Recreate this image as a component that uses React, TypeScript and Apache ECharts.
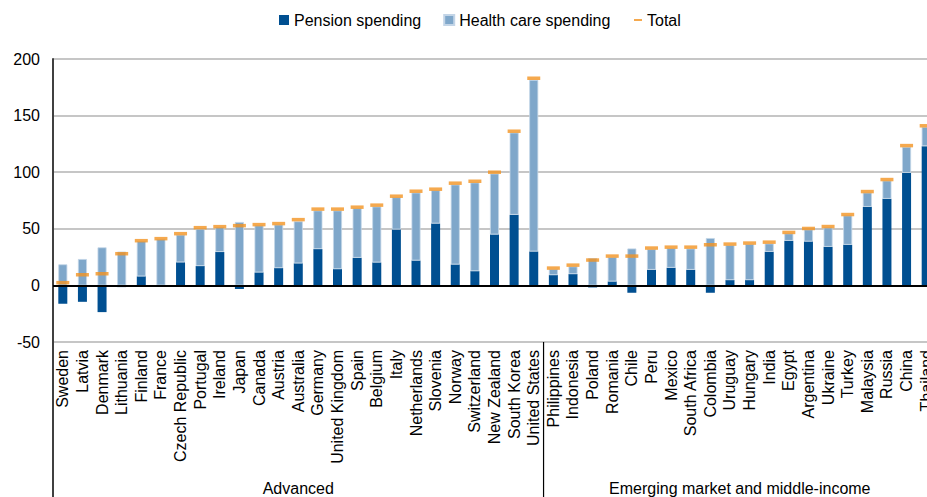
import React, { useEffect, useRef } from "react";
import * as echarts from "echarts";

const categories = [
  "Sweden", "Latvia", "Denmark", "Lithuania", "Finland", "France", "Czech Republic", "Portugal", "Ireland", "Japan",
  "Canada", "Austria", "Australia", "Germany", "United Kingdom", "Spain", "Belgium", "Italy", "Netherlands", "Slovenia",
  "Norway", "Switzerland", "New Zealand", "South Korea", "United States",
  "Philippines", "Indonesia", "Poland", "Romania", "Chile", "Peru", "Mexico", "South Africa", "Colombia", "Uruguay",
  "Hungary", "India", "Egypt", "Argentina", "Ukraine", "Turkey", "Malaysia", "Russia", "China", "Thailand",
];

const pension = [
  -16.2, -14.5, -23.6, -1.5, 8.0, 0, 20.4, 17.1, 29.5, -3.2,
  11.5, 15.3, 19.5, 32.1, 14.4, 24.4, 20.3, 49.4, 22.0, 54.7,
  18.5, 12.6, 45.0, 62.4, 30.0,
  9.1, 10.0, -1.8, 3.5, -6.5, 13.8, 15.6, 13.8, -6.5, 4.7,
  4.7, 29.7, 39.4, 38.8, 34.1, 35.9, 69.4, 76.5, 99.4, 123.0,
];

const health = [
  18.6, 23.3, 33.6, 29.8, 31.2, 41.0, 24.4, 33.0, 22.1, 56.0,
  41.5, 38.4, 37.1, 34.1, 51.8, 43.8, 49.4, 28.5, 60.0, 29.4,
  70.6, 78.3, 53.8, 72.6, 151.5,
  5.3, 6.8, 24.1, 21.5, 32.6, 18.2, 17.4, 18.8, 41.8, 30.9,
  31.8, 7.3, 6.5, 10.6, 17.1, 25.9, 12.6, 16.1, 23.0, 17.0,
];

const totals = [
  2.4, 9.4, 10.3, 28.0, 39.5, 41.3, 45.7, 51.0, 51.9, 52.8,
  53.7, 54.6, 58.1, 67.4, 67.4, 69.1, 70.9, 78.8, 83.2, 85.0,
  90.3, 92.0, 100.0, 136.2, 183.0,
  15.3, 17.9, 22.4, 25.9, 25.9, 33.0, 33.8, 33.8, 35.9, 36.5,
  37.4, 38.2, 46.8, 50.3, 52.0, 62.6, 82.9, 93.5, 123.5, 141.0,
];

const groups = ["Advanced", "Emerging market and middle-income"];
const advancedCount = 25;

const FONT = 'Arial, "Liberation Sans", Helvetica, sans-serif';
const DARK = "#004F91";
const LIGHT = "#7FA7CA";
const ORANGE = "#F39322";

export default function App() {
  const ref = useRef<HTMLDivElement>(null);

  useEffect(() => {
    const el = ref.current;
    if (!el) return;
    const chart = echarts.init(el, null, { renderer: "svg" });
    const H = 497;
    chart.setOption({
      animation: false,
      textStyle: { fontFamily: FONT },
      legend: [
        {
          data: ["Pension spending", "Health care spending"],
          left: 274,
          top: 7,
          icon: "rect",
          itemWidth: 10,
          itemHeight: 10,
          itemGap: 22,
          textStyle: { fontSize: 16, color: "#000", fontFamily: FONT },
        },
        {
          data: ["Total"],
          left: 629,
          top: 7,
          icon: "rect",
          itemWidth: 8,
          itemHeight: 2,
          textStyle: { fontSize: 16, color: "#000", fontFamily: FONT },
        },
      ],
      grid: { left: 53, right: 14, top: 59, bottom: 155, containLabel: false },
      xAxis: {
        type: "category",
        data: categories,
        axisLine: { show: false, onZero: false },
        axisTick: { show: false },
        axisLabel: {
          interval: 0,
          rotate: 90,
          fontSize: 16,
          color: "#000",
          margin: 8,
          fontFamily: FONT,
        },
      },
      yAxis: {
        type: "value",
        min: -50,
        max: 200,
        interval: 50,
        axisLine: { show: true, lineStyle: { color: "#404040", width: 2 } },
        axisTick: { show: false },
        axisLabel: { fontSize: 16, color: "#000", margin: 13, fontFamily: FONT },
        splitLine: { lineStyle: { color: "#B3B3B3", width: 1.5 } },
      },
      series: [
        {
          name: "Pension spending",
          type: "bar",
          stack: "total",
          data: pension,
          barWidth: 9,
          itemStyle: { color: DARK },
        },
        {
          name: "Health care spending",
          type: "bar",
          stack: "total",
          data: health,
          barWidth: 9,
          itemStyle: { color: LIGHT, borderColor: "#C3D5E7", borderWidth: 0.8 },
          markLine: {
            silent: true,
            symbol: ["none", "none"],
            label: { show: false },
            lineStyle: { color: "#000", width: 2, type: "solid" },
            data: [{ yAxis: 0 }],
            z: 5,
          },
        },
        {
          name: "Total",
          type: "scatter",
          data: totals,
          symbol: "rect",
          symbolSize: [13, 3.5],
          itemStyle: { color: ORANGE },
          z: 10,
        },
      ],
    });

    const a0 = chart.convertToPixel({ gridIndex: 0 }, [0, -50]) as number[];
    const a1 = chart.convertToPixel({ gridIndex: 0 }, [1, -50]) as number[];
    const last = chart.convertToPixel({ gridIndex: 0 }, [categories.length - 1, -50]) as number[];
    const w = a1[0] - a0[0];
    const left = a0[0] - w / 2;
    const right = last[0] + w / 2;
    const yBottom = a0[1];
    const sep = left + advancedCount * w;

    chart.setOption({
      graphic: [
        {
          type: "line",
          shape: { x1: left, y1: yBottom, x2: left, y2: H },
          style: { stroke: "#404040", lineWidth: 2 },
          silent: true,
        },
        {
          type: "line",
          shape: { x1: sep, y1: yBottom, x2: sep, y2: H },
          style: { stroke: "#000", lineWidth: 1.2 },
          silent: true,
        },
        {
          type: "text",
          x: (left + sep) / 2,
          y: 488,
          style: {
            text: groups[0],
            fill: "#000",
            font: `16px ${FONT}`,
            align: "center",
            verticalAlign: "middle",
          },
          silent: true,
        },
        {
          type: "text",
          x: (sep + right) / 2,
          y: 488,
          style: {
            text: groups[1],
            fill: "#000",
            font: `16px ${FONT}`,
            align: "center",
            verticalAlign: "middle",
          },
          silent: true,
        },
      ],
    });

    return () => chart.dispose();
  }, []);

  return (
    <div
      style={{
        position: "fixed",
        left: 0,
        top: 0,
        width: 927,
        height: 497,
        overflow: "hidden",
        background: "#fff",
      }}
    >
      <div ref={ref} style={{ width: 950, height: 497 }} />
    </div>
  );
}
